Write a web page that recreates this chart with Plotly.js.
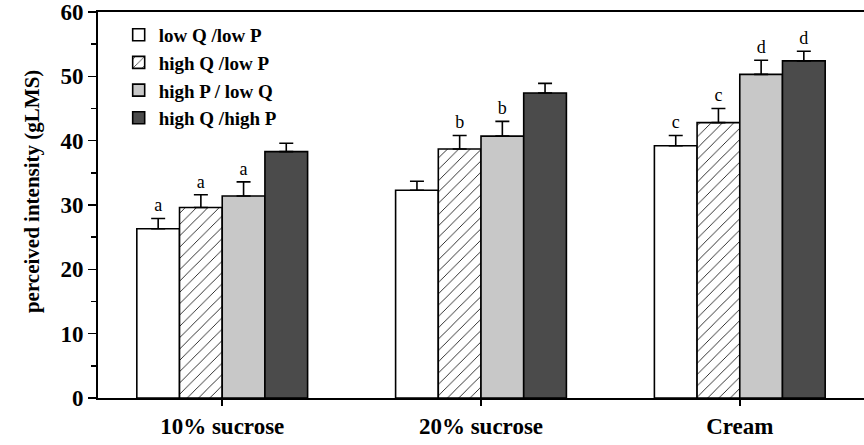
<!DOCTYPE html>
<html>
<head>
<meta charset="utf-8">
<script src="https://cdn.plot.ly/plotly-3.0.1.min.js"></script>
<style>html,body{margin:0;padding:0;background:#fff;}#chart{width:864px;height:445px;}</style>
</head>
<body>
<div id="chart"></div>
<script>
const categories = ["10% sucrose", "20% sucrose", "Cream"];
const seriesNames = ["low Q /low P", "high Q /low P", "high P / low Q", "high Q /high P"];
const lowQlowP   = [26.3, 32.3, 39.2];
const highQlowP  = [29.6, 38.7, 42.8];
const highPlowQ  = [31.4, 40.7, 50.3];
const highQhighP = [38.3, 47.4, 52.4];
const errLowQlowP   = [1.6, 1.4, 1.6];
const errHighQlowP  = [2.0, 2.1, 2.2];
const errHighPlowQ  = [2.2, 2.3, 2.2];
const errHighQhighP = [1.3, 1.5, 1.5];
const lettersLowQlowP   = ["a", "", "c"];
const lettersHighQlowP  = ["a", "b", "c"];
const lettersHighPlowQ  = ["a", "b", "d"];
const lettersHighQhighP = ["", "", "d"];
const yTickVals = [0, 10, 20, 30, 40, 50, 60];
const yTitle = "perceived intensity (gLMS)";

const values = [lowQlowP, highQlowP, highPlowQ, highQhighP];
const errors = [errLowQlowP, errHighQlowP, errHighPlowQ, errHighQhighP];
const letters = [lettersLowQlowP, lettersHighQlowP, lettersHighPlowQ, lettersHighQhighP];
const fills = ["#ffffff", "#ffffff", "#c8c8c8", "#4b4b4b"];

const serif = "Liberation Serif, Times New Roman, serif";
const traces = [];
values.forEach((v, i) => {
  const tr = {
    type: "bar", name: seriesNames[i], x: categories, y: v,
    offsetgroup: "g" + i,
    marker: {color: fills[i], line: {color: "#000", width: 1.6}},
    error_y: {type: "data", symmetric: false, array: errors[i], arrayminus: v.map(() => 0),
              color: "#000", thickness: 1.6, width: 7},
    hoverinfo: "skip"
  };
  if (i === 1) {
    tr.marker.pattern = {shape: "/", fgcolor: "#000", bgcolor: "#fff", size: 8, solidity: 0.1};
  }
  traces.push(tr);
});
values.forEach((v, i) => {
  traces.push({
    type: "bar", x: categories, y: v.map(() => 0.01),
    base: v.map((val, k) => val + errors[i][k]),
    offsetgroup: "g" + i, showlegend: false, hoverinfo: "skip",
    marker: {color: "rgba(0,0,0,0)", line: {width: 0}},
    text: letters[i], textposition: "outside", cliponaxis: false,
    textfont: {family: serif, size: 18, color: "#000"}
  });
});

const layout = {
  width: 864, height: 445,
  margin: {l: 98, r: 0, t: 12, b: 47},
  paper_bgcolor: "#fff", plot_bgcolor: "#fff",
  barmode: "group", bargap: 0.34, bargroupgap: 0,
  showlegend: true,
  legend: {x: 0.027, y: 0.99, xanchor: "left", yanchor: "top", bgcolor: "rgba(0,0,0,0)",
           font: {family: serif, size: 19, color: "#000", weight: "bold"}, traceorder: "normal"},
  xaxis: {type: "category", range: [-0.48, 2.48], showline: true, linecolor: "#000", linewidth: 2,
          mirror: true, ticks: "outside", ticklen: 6, tickwidth: 1.5, tickcolor: "#000",
          showgrid: false, zeroline: false,
          tickfont: {family: serif, size: 23, color: "#000", weight: "bold"}},
  yaxis: {range: [0, 60], tickvals: yTickVals, ticks: "outside", ticklen: 8, tickwidth: 1.5, tickcolor: "#000",
          minor: {dtick: 5, ticks: "outside", ticklen: 5, tickwidth: 1.5, tickcolor: "#000"},
          showline: true, linecolor: "#000", linewidth: 2, showgrid: false, zeroline: false,
          tickfont: {family: serif, size: 23, color: "#000", weight: "bold"}},
  annotations: [{text: yTitle, xref: "paper", yref: "paper", x: -0.0862, y: 0.536,
                 xanchor: "center", yanchor: "middle", textangle: -90, showarrow: false,
                 font: {family: serif, size: 21, color: "#000", weight: "bold"}}]
};
Plotly.newPlot("chart", traces, layout, {staticPlot: true, displayModeBar: false});
</script>
</body>
</html>
